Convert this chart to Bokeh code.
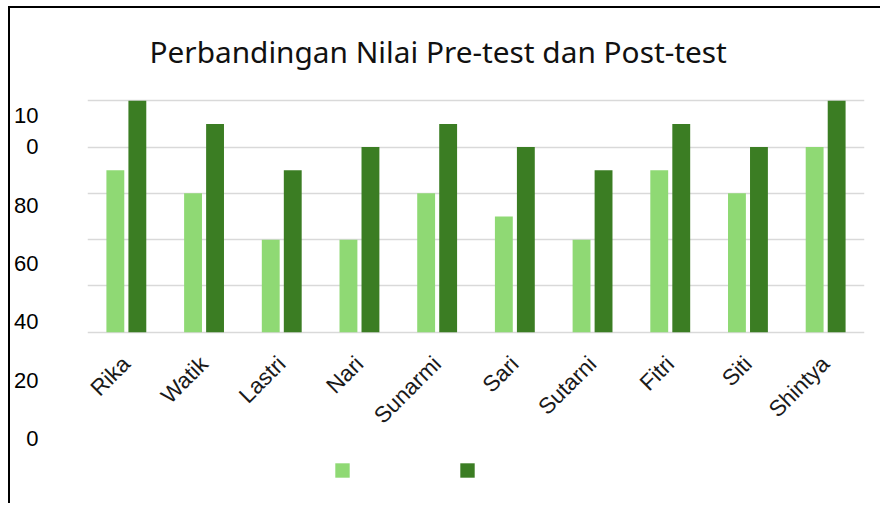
from bokeh.plotting import figure
from bokeh.models import (ColumnDataSource, Range1d, LinearAxis, FixedTicker, Grid,
                          LabelSet, Legend, LegendItem, FactorRange)
from bokeh.transform import dodge
from bokeh.core.properties import value
from bokeh.embed import file_html
from bokeh.resources import INLINE
import math

# ---------------- data ----------------
names = ["Rika", "Watik", "Lastri", "Nari", "Sunarmi", "Sari", "Sutarni", "Fitri", "Siti", "Shintya"]
pre_test = [85, 80, 70, 70, 80, 75, 70, 85, 80, 90]
post_test = [100, 95, 85, 90, 95, 90, 85, 95, 90, 100]
grid_values = [50, 60, 70, 80, 90, 100]
y_tick_values = [0, 20, 40, 60, 80, 100]
y_tick_labels = ["0", "20", "40", "60", "80", "100"]
title_text = "Perbandingan Nilai Pre-test dan Post-test"

# ---------------- layout constants (pixels) ----------------
W, H = 872, 497
FRAME_L, FRAME_R, FRAME_T, FRAME_B = 77, 18, 82, 8      # borders in canvas px
# main scale: value 100 at canvas y 91.3, value 50 at canvas y 323.3
top_px, base_px = 91.3, 323.3
ppu = (base_px - top_px) / 50.0
y_start = 50 - (H - FRAME_B - base_px) / ppu
y_end = 100 + (top_px - FRAME_T) / ppu
# label scale (the broken axis): 0 at canvas y 430, 100 at canvas y 137.5
lab0_px, lab100_px = 430.0, 137.5
lppu = (lab0_px - lab100_px) / 100.0
lab_start = 0 - (H - FRAME_B - lab0_px) / lppu
lab_end = (lab0_px - FRAME_T) / lppu
wrap_val = 110.8   # first line of the wrapped "100" label

src = ColumnDataSource(dict(name=names, pre=pre_test, post=post_test,
                            base=[50] * len(names)))

p = figure(x_range=FactorRange(factors=names), y_range=Range1d(y_start, y_end),
           width=W, height=H, output_backend="svg", toolbar_location=None,
           x_axis_location=None, y_axis_location=None,
           min_border_left=FRAME_L, min_border_right=FRAME_R,
           min_border_top=FRAME_T, min_border_bottom=FRAME_B,
           title=title_text)
p.styles = {"border-top": "2px solid #000000", "border-left": "2px solid #000000",
            "margin-top": "6px", "margin-left": "8px"}
p.outline_line_color = None
p.background_fill_color = "white"
p.border_fill_color = "white"
for g in p.grid:
    g.visible = False

p.title.text_font = "Noto Sans"
p.title.text_font_size = "29.8px"
p.title.text_font_style = "normal"
p.title.text_color = "#111111"
p.title.align = "left"
p.title.offset = 62
p.title.standoff = 40

grid = Grid(dimension=1, ticker=FixedTicker(ticks=grid_values),
            grid_line_color="#d9d9d9", grid_line_width=1.6)
p.add_layout(grid)

r_pre = p.vbar(x=dodge("name", -0.1416, range=p.x_range), top="pre", bottom="base",
               width=0.23, source=src, fill_color="#8FD974", line_color=None)
r_post = p.vbar(x=dodge("name", 0.1416, range=p.x_range), top="post", bottom="base",
                width=0.23, source=src, fill_color="#3B7D23", line_color=None)

# broken y axis labels
p.extra_y_ranges = {"lab": Range1d(lab_start, lab_end)}
overrides = {v: t for v, t in zip(y_tick_values, y_tick_labels)}
overrides[100] = y_tick_labels[-1][-1:]
overrides[wrap_val] = y_tick_labels[-1][:-1]
yaxis = LinearAxis(y_range_name="lab", ticker=FixedTicker(ticks=y_tick_values + [wrap_val]),
                   major_label_overrides=overrides)
yaxis.axis_line_color = None
yaxis.major_tick_line_color = None
yaxis.minor_tick_line_color = None
yaxis.major_tick_out = 0
yaxis.major_tick_in = 0
yaxis.major_label_standoff = 49
yaxis.major_label_text_font = "Liberation Sans"
yaxis.major_label_text_font_size = "22px"
yaxis.major_label_text_color = "#000000"
p.add_layout(yaxis, "left")

# category labels, rotated
labels = LabelSet(x="name", y="base", text="name", source=src, angle=math.pi / 4,
                  text_align="right", text_baseline="middle", y_offset=-28,
                  text_font=value("Liberation Sans"), text_font_size="22.5px",
                  text_color="#1a1a1a")
p.add_layout(labels)

legend = Legend(items=[LegendItem(label=" ", renderers=[r_pre]),
                       LegendItem(label="  ", renderers=[r_post])],
                orientation="horizontal", location=(246, 18),
                glyph_width=18, glyph_height=18, label_width=107, label_height=18,
                label_standoff=0, spacing=0, padding=0, margin=0,
                border_line_color=None, background_fill_alpha=0,
                label_text_font_size="10px")
p.add_layout(legend, "center")

open("out.html", "w").write(file_html(p, INLINE))
